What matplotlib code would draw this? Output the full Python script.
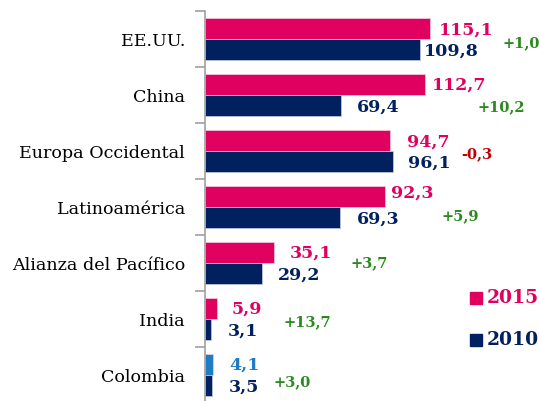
import matplotlib
matplotlib.use("Agg")
import matplotlib.pyplot as plt
from matplotlib.patches import Rectangle

categories = ["EE.UU.", "China", "Europa Occidental", "Latinoamérica",
              "Alianza del Pacífico", "India", "Colombia"]
v2015 = [115.1, 112.7, 94.7, 92.3, 35.1, 5.9, 4.1]
v2010 = [109.8, 69.4, 96.1, 69.3, 29.2, 3.1, 3.5]
growth = ["+1,0", "+10,2", "-0,3", "+5,9", "+3,7", "+13,7", "+3,0"]

# label placement (x in data units from bar end)
off2015 = [4.6, 3.4, 8.6, 2.8, 8.4, 7.9, 8.2]
off2010 = [2.2, 8.3, 7.7, 8.4, 8.1, 8.7, 8.8]
growth_x = [152.4, 139.6, 130.9, 121.2, 74.2, 39.9, 34.8]
growth_dy = [0.07, 0.21, 0.05, 0.16, 0.0, 0.05, 0.12]
dy2015 = [-0.16, -0.18, -0.16, -0.25, -0.18, -0.18, -0.18]

PINK = "#E0005F"
NAVY = "#002060"
BLUE = "#1F7BC4"
GREEN = "#2A8A1E"
RED = "#C00000"

W, H = 539, 401
fig = plt.figure(figsize=(W / 100, H / 100), dpi=100)
ax = fig.add_axes([205 / W, (H - 403) / H, (W - 205) / W, 392 / H])

n = len(categories)
ys = list(range(n))
bh = 0.375
c2015 = [PINK] * (n - 1) + [BLUE]

ax.barh([y - bh / 2 for y in ys], v2015, height=bh, color=c2015,
        edgecolor="#f4d0dc", linewidth=0.5)
ax.barh([y + bh / 2 for y in ys], v2010, height=bh, color=NAVY,
        edgecolor="#c8cde0", linewidth=0.5)

fnt = dict(family="DejaVu Serif", fontweight="bold")
fmt = lambda v: f"{v:.1f}".replace(".", ",")
for i in range(n):
    ax.text(v2015[i] + off2015[i], i + dy2015[i], fmt(v2015[i]), color=c2015[i],
            fontsize=12.5, ha="left", va="center", **fnt)
    ax.text(v2010[i] + off2010[i], i + 0.21, fmt(v2010[i]), color=NAVY,
            fontsize=12.5, ha="left", va="center", **fnt)
    ax.text(growth_x[i], i + growth_dy[i], growth[i],
            color=RED if growth[i].startswith("-") else GREEN,
            fontsize=10.5, ha="left", va="center", **fnt)

ax.set_xlim(0, (W - 205) / 1.955)
ax.set_ylim(n - 0.5, -0.5)
ax.set_xticks([])
ax.set_yticks([y + 0.5 for y in range(-1, n)], minor=False)
ax.set_yticklabels([])
ax.set_yticks(ys, minor=True)
ax.set_yticklabels(categories, minor=True, family="DejaVu Serif", fontsize=12.6)
ax.tick_params(axis="y", which="minor", length=0, pad=14.4)
ax.tick_params(axis="y", which="major", length=7, color="#a0a0a0", width=1.2)
for s in ["top", "right", "bottom"]:
    ax.spines[s].set_visible(False)
ax.spines["left"].set_color("#a0a0a0")
ax.spines["left"].set_linewidth(1.2)

# legend
for yy, col, lab in [(298, PINK, "2015"), (340, NAVY, "2010")]:
    fig.patches.append(Rectangle((470 / W, (H - yy - 6) / H), 12 / W, 12 / H,
                                 transform=fig.transFigure, color=col))
    fig.text(487 / W, (H - yy) / H, lab, color=col, fontsize=13.5,
             va="center", ha="left", **fnt)

fig.savefig("out.png", dpi=100)
